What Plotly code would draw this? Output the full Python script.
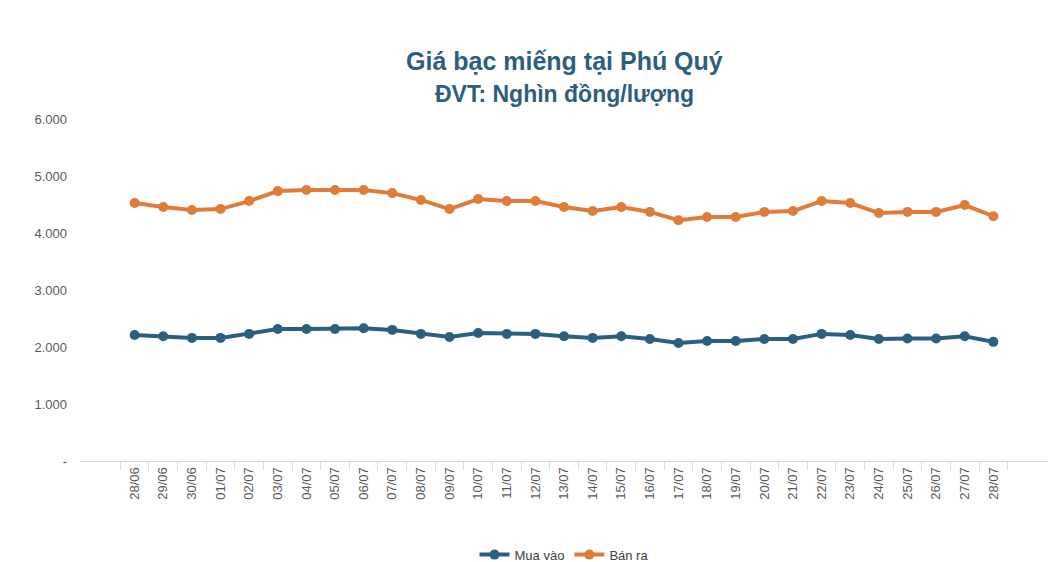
import plotly.graph_objects as go

dates = ["28/06", "29/06", "30/06", "01/07", "02/07", "03/07", "04/07", "05/07", "06/07", "07/07",
         "08/07", "09/07", "10/07", "11/07", "12/07", "13/07", "14/07", "15/07", "16/07", "17/07",
         "18/07", "19/07", "20/07", "21/07", "22/07", "23/07", "24/07", "25/07", "26/07", "27/07", "28/07"]
mua_vao = [2210, 2190, 2160, 2160, 2230, 2315, 2315, 2315, 2330, 2300,
           2230, 2175, 2245, 2230, 2230, 2190, 2160, 2190, 2140, 2070,
           2105, 2105, 2140, 2140, 2230, 2210, 2140, 2150, 2150, 2190, 2090]
ban_ra = [4525, 4455, 4405, 4420, 4560, 4735, 4755, 4755, 4755, 4700,
          4580, 4420, 4595, 4560, 4560, 4455, 4385, 4455, 4370, 4225,
          4280, 4280, 4370, 4385, 4560, 4525, 4350, 4370, 4370, 4490, 4295]
y_ticks = [0, 1000, 2000, 3000, 4000, 5000, 6000]
y_labels = ["-", "1.000", "2.000", "3.000", "4.000", "5.000", "6.000"]

blue = "#2B5F7F"
orange = "#E07B39"
title_font = dict(size=25, color="#2E5E7E", family="Liberation Sans Narrow, Arial Narrow, Liberation Sans")

fig = go.Figure()
fig.add_trace(go.Scatter(x=dates, y=mua_vao, name="Mua vào", mode="lines+markers",
                         line=dict(color=blue, width=4), marker=dict(size=10, color=blue)))
fig.add_trace(go.Scatter(x=dates, y=ban_ra, name="Bán ra", mode="lines+markers",
                         line=dict(color=orange, width=4), marker=dict(size=10, color=orange)))

fig.add_annotation(text="<b>Giá bạc miếng tại Phú Quý</b>", xref="paper", yref="paper",
                   x=0.5, y=1.0, yshift=74, showarrow=False, font=title_font)
fig.add_annotation(text="<b>ĐVT: Nghìn đồng/lượng</b>", xref="paper", yref="paper",
                   x=0.5, y=1.0, yshift=40, showarrow=False, font=dict(title_font, size=23))

fig.update_layout(
    width=1058, height=562,
    paper_bgcolor="white", plot_bgcolor="white",
    font=dict(family="Liberation Sans, Arial", color="#595959", size=13),
    margin=dict(l=72, r=18, t=111, b=109, autoexpand=False),
    legend=dict(orientation="h", x=0.5, xanchor="center", y=-0.23, yanchor="top",
                font=dict(size=13, color="#404040")),
    showlegend=True,
)
fig.update_xaxes(tickangle=-90, showgrid=False, showline=True, linecolor="#D9D9D9",
                 ticks="outside", ticklen=8, tickcolor="#D9D9D9", tickson="boundaries",
                 tickfont=dict(size=13, color="#595959"), automargin=False)
fig.update_yaxes(range=[0, 6000], tickvals=y_ticks, ticktext=y_labels, showgrid=False,
                 zeroline=False, tickfont=dict(size=13, color="#595959"), automargin=False,
                 ticklabelstandoff=12)

fig.write_html("out.html")
